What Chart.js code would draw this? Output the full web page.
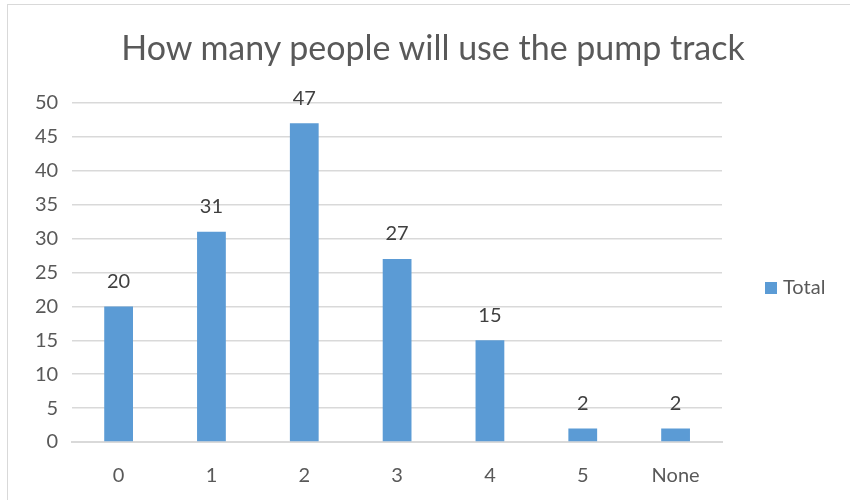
<!DOCTYPE html>
<html>
    <head>
        <meta charset="UTF-8">
        <title>Pump track</title>
        <script src="https://cdn.jsdelivr.net/npm/chart.js@4.4.0/dist/chart.umd.min.js"></script>
        <style>
            html, body { margin: 0; background: #fff; overflow: hidden; width: 850px; height: 500px; }
            #frame { position: absolute; left: 7px; top: 4px; width: 900px; height: 600px; border: 1px solid #d9d9d9; }
            #container { position: absolute; left: 0; top: 0; width: 850px; height: 530px; }
            #title { position: absolute; left: 0; top: 26px; width: 866px; text-align: center; line-height: 40px;
                     font: 34px Lato, "Open Sans", sans-serif; color: #595959; }
            #legend { position: absolute; left: 765px; top: 274px; font: 20px Lato, "Open Sans", sans-serif; color: #595959; }
            #legend span.box { display: inline-block; width: 12px; height: 12px; background: #5b9bd5; margin-right: 6px; }
        </style>
        <script type="text/javascript">
            var categories = ['0', '1', '2', '3', '4', '5', 'None'];
            var totals = [20, 31, 47, 27, 15, 2, 2];
            var yTicks = [0, 5, 10, 15, 20, 25, 30, 35, 40, 45, 50];
            var seriesName = 'Total';
            var chartTitle = 'How many people will use the pump track';

            var fontFamily = 'Lato, "Open Sans", sans-serif';

            var valueLabels = {
                id: 'valueLabels',
                afterDatasetsDraw: function (chart) {
                    var ctx = chart.ctx;
                    var meta = chart.getDatasetMeta(0);
                    ctx.save();
                    ctx.font = '20px ' + fontFamily;
                    ctx.fillStyle = '#404040';
                    ctx.textAlign = 'center';
                    ctx.textBaseline = 'middle';
                    meta.data.forEach(function (bar, i) {
                        ctx.fillText(totals[i], bar.x, bar.y - 25);
                    });
                    ctx.restore();
                }
            };

            window.onload = function () {
                document.getElementById('title').textContent = chartTitle;
                document.getElementById('legendText').textContent = seriesName;
                var ctx = document.getElementById('pumpCanvas').getContext('2d');
                window.pumpChart = new Chart(ctx, {
                    type: 'bar',
                    data: {
                        labels: categories,
                        datasets: [{
                            label: seriesName,
                            data: totals,
                            backgroundColor: '#5b9bd5',
                            categoryPercentage: 1,
                            barPercentage: 0.31
                        }]
                    },
                    options: {
                        responsive: false,
                        animation: false,
                        layout: { padding: { left: 21, right: 128, top: 103, bottom: 28 } },
                        plugins: {
                            legend: { display: false },
                            title: { display: false },
                            tooltip: { enabled: false }
                        },
                        scales: {
                            x: {
                                grid: { display: false },
                                border: { color: '#d9d9d9', width: 2 },
                                ticks: {
                                    color: '#595959',
                                    padding: 14,
                                    font: { family: fontFamily, size: 20 }
                                }
                            },
                            y: {
                                min: 0,
                                max: 50,
                                afterBuildTicks: function (axis) {
                                    axis.ticks = yTicks.map(function (v) { return { value: v }; });
                                },
                                grid: { color: '#d9d9d9', lineWidth: 1.5, drawTicks: false },
                                border: { display: false },
                                ticks: {
                                    color: '#595959',
                                    padding: 14,
                                    font: { family: fontFamily, size: 20 }
                                }
                            }
                        }
                    },
                    plugins: [valueLabels]
                });
            };
        </script>
    </head>
    <body>
        <div id="frame"></div>
        <div id="container">
            <canvas id="pumpCanvas" width="850" height="530"></canvas>
        </div>
        <div id="title"></div>
        <div id="legend"><span class="box"></span><span id="legendText"></span></div>
    </body>
</html>
